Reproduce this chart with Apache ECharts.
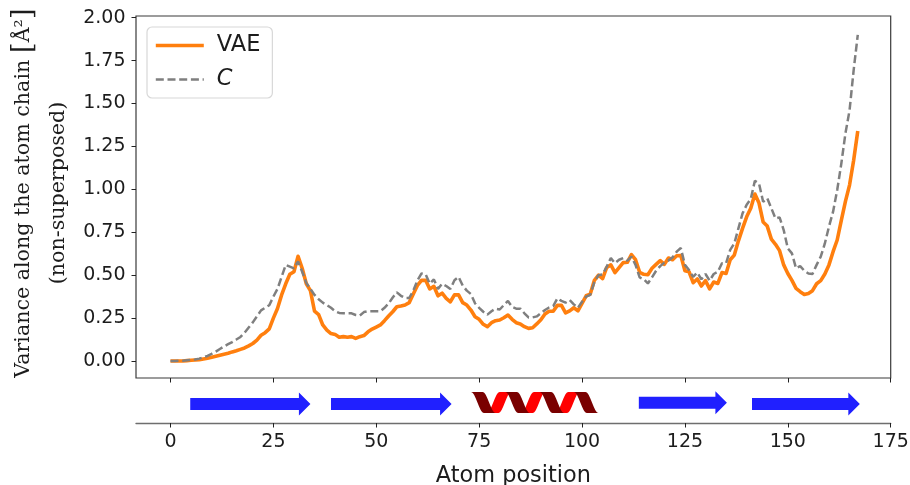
<!DOCTYPE html>
<html><head><meta charset="utf-8">
<style>html,body{margin:0;padding:0;background:#fff}#c{width:910px;height:485px}</style>
<script src="https://cdn.jsdelivr.net/npm/echarts@6/dist/echarts.min.js"></script>
</head><body><div id="c"></div>
<script>
const vae = [0,0,0,0,.002,.004,.006,.008,.012,.016,
.022,.028,.034,.04,.045,.053,.06,.068,.076,.088,
.102,.122,.15,.165,.187,.25,.306,.385,.45,.505,
.52,.61,.54,.45,.41,.29,.27,.21,.18,.16,
.155,.138,.142,.138,.142,.132,.142,.148,.17,.186,
.198,.21,.235,.262,.287,.316,.32,.326,.34,.39,
.44,.47,.47,.42,.435,.38,.395,.365,.345,.385,
.385,.34,.326,.297,.258,.243,.214,.20,.223,.235,
.239,.252,.268,.243,.223,.216,.20,.19,.194,.216,
.24,.274,.29,.29,.324,.324,.28,.292,.31,.292,
.336,.38,.39,.47,.50,.48,.545,.56,.515,.544,
.573,.575,.62,.59,.517,.505,.503,.54,.563,.585,
.563,.60,.59,.613,.615,.526,.52,.456,.478,.437,
.468,.42,.46,.452,.515,.51,.59,.617,.70,.773,
.84,.89,.973,.92,.81,.786,.71,.68,.643,.56,
.51,.47,.423,.404,.388,.394,.41,.45,.468,.507,
.56,.637,.705,.82,.93,1.025,1.17,1.34];
const conformations = [0,0,.001,.002,.004,.006,.009,.014,.021,.03,
.042,.055,.07,.085,.098,.11,.125,.14,.165,.195,
.225,.26,.295,.31,.325,.375,.42,.49,.56,.55,
.54,.58,.52,.455,.42,.385,.36,.34,.326,.31,
.29,.28,.278,.278,.278,.268,.265,.285,.29,.29,
.29,.29,.31,.335,.37,.40,.38,.367,.367,.41,
.47,.51,.505,.45,.475,.42,.45,.437,.42,.47,
.49,.44,.41,.39,.336,.31,.287,.27,.29,.305,
.30,.326,.35,.315,.305,.305,.278,.254,.254,.26,
.278,.297,.312,.32,.365,.35,.34,.355,.33,.31,
.345,.375,.385,.46,.50,.505,.55,.60,.57,.59,
.60,.585,.608,.56,.487,.476,.452,.487,.526,.553,
.573,.585,.604,.637,.658,.56,.53,.49,.515,.476,
.507,.468,.507,.52,.57,.57,.647,.685,.773,.86,
.91,.944,1.05,1.035,.928,.948,.89,.83,.837,.763,
.656,.627,.54,.553,.526,.51,.507,.56,.608,.685,
.783,.87,.996,1.15,1.326,1.46,1.695,1.90];
const xTicks = [0,25,50,75,100,125,150,175];
const yTicks = [0,.25,.5,.75,1,1.25,1.5,1.75,2];
const strands = [[4.8,34],[39,68.3],[113.8,135.2],[141.3,167.5]];
const helices = [[73,104]];

const chart = echarts.init(document.getElementById('c'), null, {renderer:'canvas'});
const INK = '#1c1c1c';
const ARROW_DY = [0,0,-1.3,0];

function renderStrand(params, api){
  const s = api.value(0), e = api.value(1);
  const a = api.coord([s,0.42]), b = api.coord([e,0.42]);
  const y = a[1] + ARROW_DY[params.dataIndex], hb = b[0]-11.5;
  return {type:'polygon', shape:{points:[
    [a[0],y-6],[hb,y-6],[hb,y-11.5],[b[0],y],[hb,y+11.5],[hb,y+6],[a[0],y+6]]},
    style:{fill:'#2020ff'}};
}
function renderHelix(params, api){
  const a = api.coord([api.value(0),0.42]), b = api.coord([api.value(1),0.42]);
  const w = b[0]-a[0], period = w/3.72, yc = a[1]-1.6, amp = 10.5;
  const L = period*0.38, band = period*0.34;
  const children = [];
  const ribbon = (x0,down,fill)=>{
    const pts = [], N = 16;
    for(let i=0;i<=N;i++){const t=i/N, u=(1-Math.cos(Math.PI*t))/2;
      pts.push([x0+L*t, yc+(down?-1:1)*amp*(1-2*u)]);}
    const bot = pts.map(p=>[p[0]+band,p[1]]).reverse();
    children.push({type:'polygon',shape:{points:pts.concat(bot)},style:{fill}});
  };
  for(let k=0;k<3;k++) ribbon(a[0]+period*(k+0.46),false,'#ff0000');
  for(let k=0;k<=3;k++) ribbon(a[0]+period*k,true,'#7a0000');
  return {type:'group',children};
}

chart.setOption({
  animation:false,
  backgroundColor:'#fff',
  textStyle:{fontFamily:'DejaVu Sans',color:INK},
  grid:[
    {left:136,top:16,width:754.7,height:362,show:true,outerBoundsMode:'none',borderColor:'#3a3a3a',borderWidth:1.2,backgroundColor:'transparent'},
    {left:136,top:378,width:754.7,height:45,show:false,outerBoundsMode:'none'}
  ],
  xAxis:[
    {gridIndex:0,type:'value',min:-8.38,max:175,
     axisLine:{show:false,onZero:false},splitLine:{show:false},
     axisTick:{show:true,length:4.5,customValues:xTicks,lineStyle:{color:'#222',width:1}},
     axisLabel:{show:false}},
    {gridIndex:1,type:'value',min:-8.38,max:175,
     axisLine:{show:true,onZero:false,lineStyle:{color:'#6e6e6e',width:1.4}},splitLine:{show:false},
     axisTick:{show:true,length:4.5,customValues:xTicks,lineStyle:{color:'#222',width:1}},
     axisLabel:{show:true,customValues:xTicks,fontSize:19,color:INK,margin:10,fontFamily:'DejaVu Sans'},
     name:'Atom position',nameLocation:'middle',nameGap:42,nameMoveOverlap:false,
     nameTextStyle:{fontSize:22.4,color:INK,fontFamily:'DejaVu Sans'}}
  ],
  yAxis:[
    {gridIndex:0,type:'value',min:-0.099,max:2.01,
     axisLine:{show:false,onZero:false},splitLine:{show:false},
     axisTick:{show:true,length:4.5,customValues:yTicks,lineStyle:{color:'#222',width:1}},
     axisLabel:{show:true,customValues:yTicks,fontSize:19,color:INK,margin:10.5,fontFamily:'DejaVu Sans',
       padding:[2,0,0,0],formatter:v=>v.toFixed(2)},
     name:'{a|Variance along the atom chain }{b|[}{a|Å²}{b|]}\n{a|(non-superposed)}',
     nameLocation:'middle',nameRotate:90,nameGap:50,nameMoveOverlap:false,
     nameTextStyle:{padding:[0,0,10,8],lineHeight:35,align:'center',
       rich:{a:{fontFamily:'DejaVu Serif',fontSize:20.6,color:INK,lineHeight:35},
             b:{fontFamily:'DejaVu Serif',fontSize:28,color:INK,lineHeight:35}}}},
    {gridIndex:1,type:'value',min:0,max:1,show:false,axisLine:{onZero:false}}
  ],
  legend:{
    data:['VAE','C'],left:147,top:27,orient:'vertical',
    backgroundColor:'#fff',borderColor:'#d8d8d8',borderWidth:1.2,borderRadius:5,
    padding:[7,12,7,7],itemGap:11,itemWidth:48,itemHeight:22,
    itemStyle:{opacity:0},lineStyle:{width:'inherit'},
    formatter:n=>n==='C'?'{i|C}':n,
    textStyle:{fontSize:22.5,color:INK,fontFamily:'DejaVu Sans',padding:[0,0,0,8],
      rich:{i:{fontSize:22.5,fontStyle:'italic',color:INK,fontFamily:'DejaVu Sans'}}}
  },
  series:[
    {name:'VAE',type:'line',xAxisIndex:0,yAxisIndex:0,symbol:'none',z:3,
     data:vae.map((v,i)=>[i,v]),itemStyle:{color:'#ff7f0e'},
     lineStyle:{color:'#ff7f0e',width:3.6,join:'round'}},
    {name:'C',type:'line',xAxisIndex:0,yAxisIndex:0,symbol:'none',z:4,
     data:conformations.map((v,i)=>[i,v]),itemStyle:{color:'#7f7f7f'},
     lineStyle:{color:'#7f7f7f',width:2.5,type:[8,3.7]}},
    {name:'strands',type:'custom',xAxisIndex:1,yAxisIndex:1,data:strands,
     renderItem:renderStrand,silent:true,encode:{x:[0,1]}},
    {name:'helices',type:'custom',xAxisIndex:1,yAxisIndex:1,data:helices,
     renderItem:renderHelix,silent:true,encode:{x:[0,1]}}
  ]
});
</script></body></html>
